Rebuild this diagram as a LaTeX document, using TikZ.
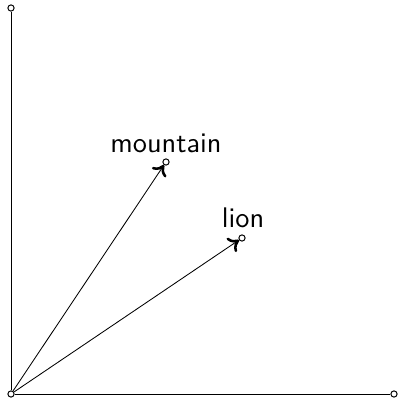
\documentclass[tikz,border=0pt]{standalone}
\usetikzlibrary{arrows.meta}
\begin{document}
\begin{tikzpicture}[x=0.3528pt,y=-0.3528pt,
  dot/.style={circle,draw,fill=white,inner sep=0pt,minimum size=2.2pt,line width=0.35pt},
  axis/.style={line width=0.3pt},
  vec/.style={line width=0.3pt,-{To[length=3.5pt,width=6pt,line width=0.9pt]}},
  lab/.style={font=\sffamily\normalsize,anchor=south,inner sep=1pt}]
\useasboundingbox (0,0) rectangle (398,398);
\node[dot] (o) at (11,394) {};
\node[dot] (y) at (11,8) {};
\node[dot] (x) at (394,394) {};
\node[dot] (m) at (166,162) {};
\node[dot] (l) at (242,238) {};
\draw[axis] (o) -- (y);
\draw[axis] (o) -- (x);
\draw[vec] (o) -- (m);
\draw[vec] (o) -- (l);
\node[lab] (mt) at (166,156) {mountain};
\node[lab] (lt) at (243,231) {lion};
\end{tikzpicture}
\end{document}
